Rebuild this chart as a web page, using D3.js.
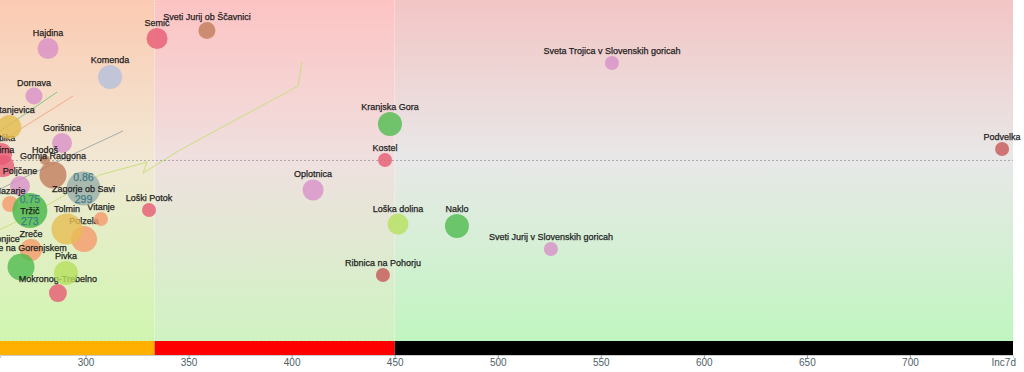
<!DOCTYPE html>
<html><head><meta charset="utf-8">
<script src="https://cdn.jsdelivr.net/npm/d3@7"></script>
<style>html,body{margin:0;padding:0;background:#fff;overflow:hidden}</style>
</head><body><svg id="chart" width="1024" height="372"></svg>
<script>
// ---- data ----
const municipalities = ["Slovenske Konjice","Metlika","Mirna","Kostanjevica","Hajdina","Semič","Sveti Jurij ob Ščavnici","Komenda","Dornava","Gorišnica","Hodoš","Gornja Radgona","Poljčane","Nazarje","Polzela","Tolmin","Vitanje","Loški Potok","Zreče","Cerklje na Gorenjskem","Mokronog-Trebelno","Pivka","Oplotnica","Kranjska Gora","Kostel","Loška dolina","Ribnica na Pohorju","Naklo","Sveti Jurij v Slovenskih goricah","Sveta Trojica v Slovenskih goricah","Podvelka","Zagorje ob Savi","Tržič"];
const inc7d = [250.3,259.0,260.0,263.0,281.8,334.7,358.9,311.9,275.0,288.6,280.3,284.2,268.2,263.4,299.3,291.0,307.5,330.8,273.5,268.7,286.6,290.5,410.4,447.7,445.3,451.6,444.3,480.2,525.8,555.4,744.7,299,273];
const ratio = [0.544,1.032,0.972,1.167,1.558,1.608,1.648,1.416,1.321,1.087,1.002,0.928,0.873,0.783,0.608,0.658,0.708,0.753,0.554,0.469,0.339,0.439,0.853,1.182,1.002,0.683,0.429,0.673,0.559,1.486,1.057,0.86,0.75];
const population = [3345,6320,6320,7520,5760,5760,3775,7520,3775,5220,1306,9520,5220,3345,8830,12550,2560,2560,6320,9520,4230,7520,5760,7520,2560,5760,2560,7520,2560,2560,2560,15100,16000];
const region = ["Savinjska","Jugovzhodna","Jugovzhodna","Posavska","Podravska","Jugovzhodna","Pomurska","Osrednjeslovenska","Podravska","Podravska","Pomurska","Pomurska","Podravska","Savinjska","Savinjska","Goriška","Savinjska","Jugovzhodna","Savinjska","Gorenjska","Jugovzhodna","Primorsko-notranjska","Podravska","Gorenjska","Jugovzhodna","Primorsko-notranjska","Koroška","Gorenjska","Podravska","Podravska","Koroška","Zasavska","Gorenjska"];
const highlighted = ["Zagorje ob Savi","Tržič"];

// trails (inc7d, ratio history)
const trailPNInc = [256.1,273.1,307.0,329.8,327.9,345.8,403.1,405.0];
const trailPNRatio = [0.643,0.728,0.928,0.992,0.937,1.052,1.371,1.491];
const trailGorInc = [286.2,253.6];
const trailGorRatio = [1.341,1.112];
const trailSavInc = [293.9,256.1];
const trailSavRatio = [1.321,1.077];
const trailZasInc = [318.2,298.3,258.5];
const trailZasRatio = [1.147,1.052,0.858];

const xDomain = [258.5, 750];
const yDomain = [0.1, 1.8];
const zoneEdges = [258.5, 333.5, 450, 750];
const xTicks = [300,350,400,450,500,550,600,650,700];
const xTitle = "Inc7d";

// ---- styles ----
const regionColor = {
  "Gorenjska":"#4fbb4f","Jugovzhodna":"#e75a73","Posavska":"#e2bb4e","Goriška":"#e6bd52",
  "Savinjska":"#f59a6a","Podravska":"#d890c8","Pomurska":"#c07d5d","Koroška":"#c75858",
  "Osrednjeslovenska":"#b4c0dc","Zasavska":"#9fb2ac","Primorsko-notranjska":"#b6e05e"
};
const zoneBand = ["#ffb000","#ff0000","#000000"];
const zoneGrad = [
  ["#fccab2","#f1e8d4","#d0f6b0"],
  ["#fdc3c3","#efe0df","#d0f3c2"],
  ["#f3c5c5","#e8e8e8","#c0f6c0"]
];
const FONT = 'Liberation Sans, Arial, sans-serif';

const svg = d3.select('#chart');
const PR = 1013, PB = 341;
const x = d3.scaleLinear().domain(xDomain).range([0, PR]);
const y = d3.scaleLinear().domain(yDomain).range([PB, 0]);
const rS = d3.scaleSqrt().domain([0, 16000]).range([0, 17.5]);

const defs = svg.append('defs');
const mid = y(1) / PB;
zoneGrad.forEach((g, i) => {
  const lg = defs.append('linearGradient').attr('id', 'zg' + i)
    .attr('x1', 0).attr('y1', 0).attr('x2', 0).attr('y2', 1);
  lg.append('stop').attr('offset', 0).attr('stop-color', g[0]);
  lg.append('stop').attr('offset', mid).attr('stop-color', g[1]);
  lg.append('stop').attr('offset', 1).attr('stop-color', g[2]);
});

// backgrounds
for (let i = 0; i < 3; i++) {
  svg.append('rect').attr('x', x(zoneEdges[i])).attr('y', 0)
    .attr('width', x(zoneEdges[i + 1]) - x(zoneEdges[i])).attr('height', PB)
    .attr('fill', `url(#zg${i})`);
  svg.append('rect').attr('x', x(zoneEdges[i])).attr('y', PB)
    .attr('width', x(zoneEdges[i + 1]) - x(zoneEdges[i])).attr('height', 14)
    .attr('fill', zoneBand[i]);
}
// separators
[zoneEdges[1], zoneEdges[2]].forEach(v => {
  svg.append('line').attr('x1', x(v)).attr('x2', x(v)).attr('y1', 0).attr('y2', PB)
    .attr('stroke', '#ffffff').attr('stroke-opacity', 0.35).attr('stroke-width', 1).attr('stroke-dasharray', '1,2');
});
svg.append('line').attr('x1', 0).attr('x2', PR).attr('y1', y(1)).attr('y2', y(1))
  .attr('stroke', '#9a9a9a').attr('stroke-width', 0.8).attr('stroke-dasharray', '2,2');
svg.append('line').attr('x1', 0).attr('x2', PR).attr('y1', PB - 3).attr('y2', PB - 3)
  .attr('stroke', '#c8d8c0').attr('stroke-width', 0.8).attr('stroke-dasharray', '1,3');

// trails
const line = d3.line().x(d => x(d[0])).y(d => y(d[1]));
const trails = [
  [trailPNInc, trailPNRatio, "#c9e07c"],
  [trailGorInc, trailGorRatio, "#7fca7a"],
  [trailSavInc, trailSavRatio, "#f4a88a"],
  [trailZasInc, trailZasRatio, "#a6acac"]
];
trails.forEach(([a, b, c]) => {
  svg.append('path').datum(a.map((v, i) => [v, b[i]])).attr('d', line)
    .attr('fill', 'none').attr('stroke', c).attr('stroke-width', 1);
});

// bubbles
const data = municipalities.map((n, i) => ({name: n, inc: inc7d[i], ratio: ratio[i], pop: population[i], region: region[i]}));
const g = svg.append('g');
function label(sel, size, fill) {
  return sel.attr('text-anchor', 'middle').attr('font-family', FONT).attr('font-size', size)
    .attr('fill', fill).attr('stroke', fill).attr('stroke-width', 0.25);
}
data.forEach(d => {
  const cx = x(d.inc), cy = y(d.ratio), r = rS(d.pop);
  const hi = highlighted.includes(d.name);
  g.append('circle').attr('cx', cx).attr('cy', cy).attr('r', r)
    .attr('fill', regionColor[d.region]).attr('fill-opacity', hi ? 0.85 : 0.8);
  if (hi) {
    label(g.append('text').attr('x', cx).attr('y', cy - 8), 10.5, '#3f7c86').text(d.ratio.toFixed(2));
    label(g.append('text').attr('x', cx).attr('y', cy + 3), 9, '#1e1e1e').text(d.name);
    label(g.append('text').attr('x', cx).attr('y', cy + 14), 10.5, '#3f7c86').text(Math.round(d.inc));
  } else {
    label(g.append('text').attr('x', cx).attr('y', cy - r - 2), 9, '#1e1e1e').text(d.name);
  }
});

// axis
const ax = svg.append('g').attr('transform', `translate(0,${PB + 14})`)
  .call(d3.axisBottom(x).tickValues(xTicks).tickSize(3).tickPadding(1).tickFormat(d3.format('d')));
ax.select('.domain').attr('stroke', '#cccccc');
ax.selectAll('.tick line').attr('stroke', '#999');
ax.selectAll('.tick text').attr('font-family', FONT).attr('font-size', 10).attr('fill', '#4e5f66');
svg.append('text').attr('x', 1016).attr('y', 366).attr('text-anchor', 'end')
  .attr('font-family', FONT).attr('font-size', 10).attr('fill', '#4e5f66').text(xTitle);
</script></body></html>
